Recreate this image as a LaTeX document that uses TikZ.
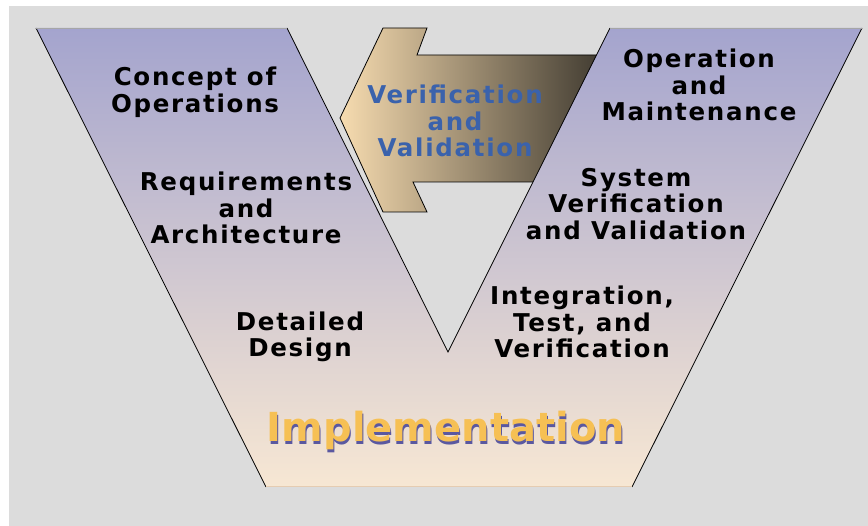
\documentclass[tikz,border=0pt]{standalone}
\usepackage{fontspec}
\newfontfamily\stagefamily[LetterSpace=7]{DejaVu Sans}
\newfontfamily\implfamily{DejaVu Sans}
\usepackage{xcolor}
\definecolor{bggray}{RGB}{220, 220, 220}
\definecolor{vtop}{RGB}{164, 164, 206}
\definecolor{vbottom}{RGB}{247, 231, 211}
\definecolor{arrowlight}{RGB}{247, 220, 176}
\definecolor{arrowdark}{RGB}{52, 48, 40}
\definecolor{vvblue}{RGB}{58, 98, 172}
\definecolor{implorange}{RGB}{246, 192, 84}
\definecolor{implshadow}{RGB}{90, 88, 160}

% 带阴影的大字
\newcommand{\shadowtext}[1]{%
  \rlap{\raisebox{-2.5pt}{\hspace{1pt}\color{implshadow}#1}}#1}

\begin{document}
\begin{tikzpicture}[x=1pt, y=-1pt,
  stage/.style={font=\stagefamily\bfseries\fontsize{24.5}{26.5}\selectfont,
    align=center, inner sep=0pt, text=black}]
  \useasboundingbox (0,0) rectangle (868,526);

  % 背景
  \fill[white] (0,0) rectangle (868,526);
  \fill[bggray] (9,6) rectangle (868,526);

  % V&V 箭头（右端压在 V 的右臂下面）
  \shade[left color=arrowlight, right color=arrowdark]
    (340,118) -- (383,28) -- (427,28) -- (417,55) -- (620,55)
    -- (620,182) -- (413,182) -- (427,212) -- (383,212) -- cycle;
  \draw[black, line width=0.8pt]
    (340,118) -- (383,28) -- (427,28) -- (417,55) -- (620,55)
    -- (620,182) -- (413,182) -- (427,212) -- (383,212) -- cycle;

  % V 形
  \shade[top color=vtop, bottom color=vbottom]
    (36,28) -- (287,28) -- (448,352) -- (610,28) -- (862,28)
    -- (632,487) -- (266,487) -- cycle;
  \draw[black, line width=0.8pt] (36,28) -- (266,487);
  \draw[black, line width=0.8pt] (287,28) -- (448,352) -- (610,28);
  \draw[black, line width=0.8pt] (862,28) -- (632,487);
  \draw[gray!70, line width=0.8pt] (36,28) -- (287,28);
  \draw[gray!70, line width=0.8pt] (610,28) -- (862,28);
  \draw[brown!40, line width=1pt] (266,487) -- (632,487);

  % 左臂
  \node[stage] (conops) at (195,92) {Concept of\\Operations};
  \node[stage] (reqarch) at (246,208) {Requirements\\and\\Architecture};
  \node[stage] (design) at (300,337) {Detailed\\Design};

  % 右臂
  \node[stage] (opmaint) at (699,85) {Operation\\and\\Maintenance};
  \node[stage] (sysvv) at (636,204) {System\\Verification\\and Validation};
  \node[stage] (intest) at (582,322) {Integration,\\Test, and\\Verification};

  % 箭头上的字
  \node[stage, text=vvblue] (vv) at (455,121) {Verification\\and\\Validation};

  % 底部
  \node[font=\implfamily\bfseries\fontsize{40}{44}\selectfont, text=implorange,
    inner sep=0pt, anchor=base] (impl) at (446,442) {\shadowtext{Implementation}};
\end{tikzpicture}
\end{document}
